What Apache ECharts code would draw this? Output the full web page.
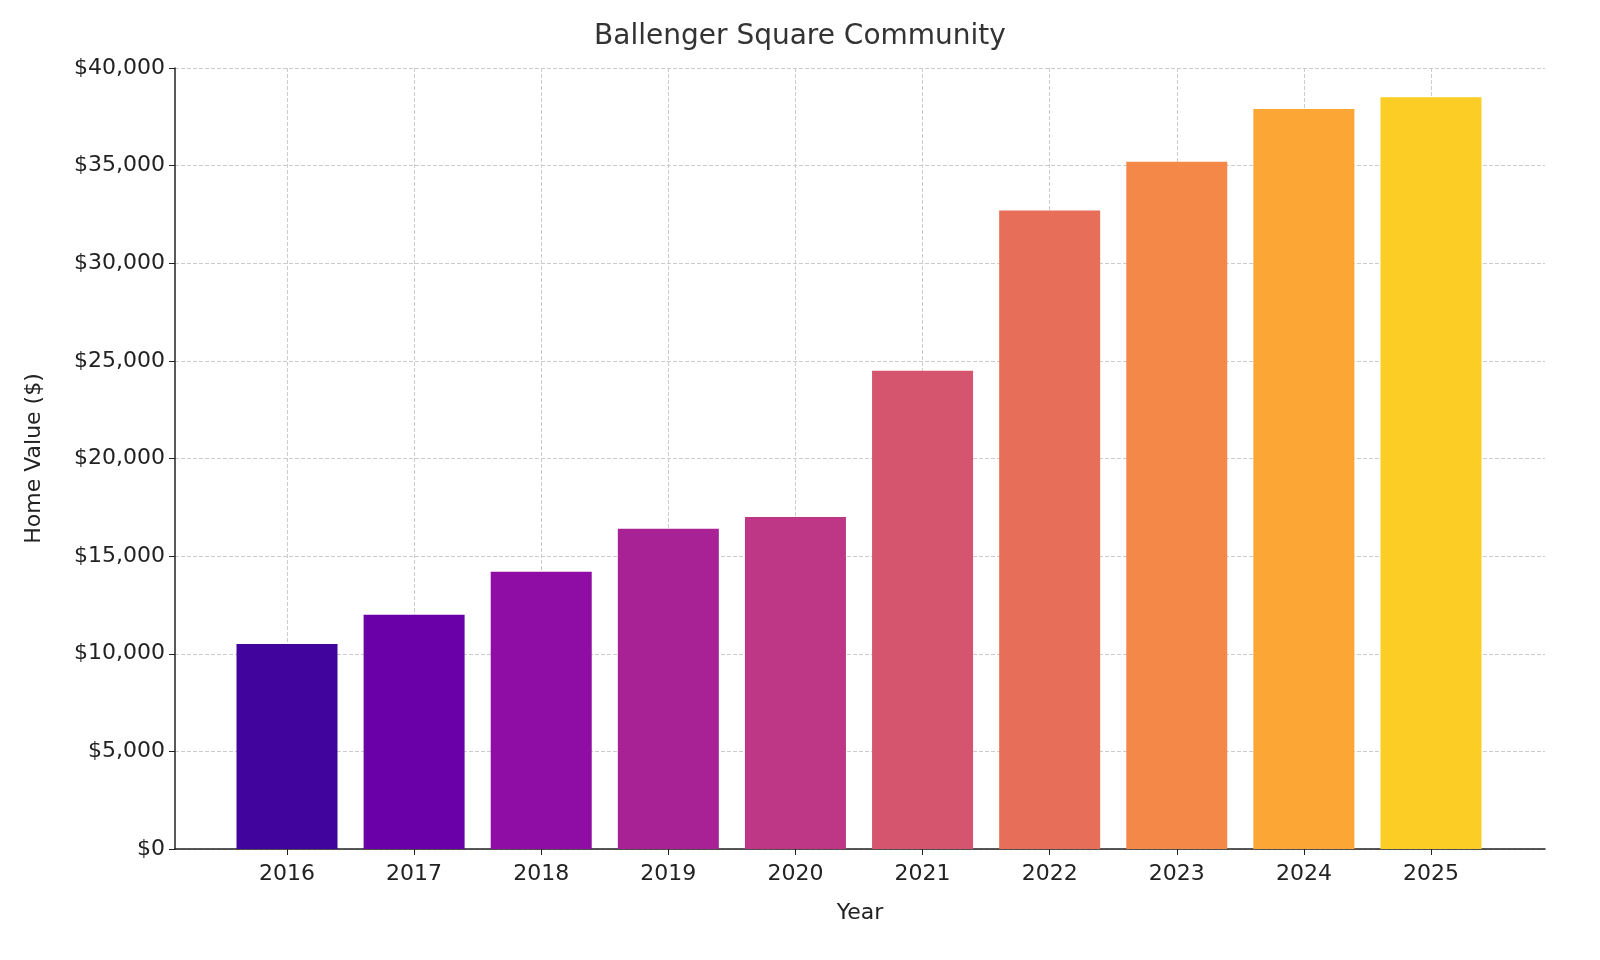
<!DOCTYPE html>
<html>
<head>
<meta charset="utf-8">
<script src="https://cdn.jsdelivr.net/npm/echarts@6/dist/echarts.min.js"></script>
<style>html,body{margin:0;background:#fff}#main{width:1600px;height:960px}</style>
</head>
<body>
<div id="main"></div>
<script>
var years= ['2016','2017','2018','2019','2020','2021','2022','2023','2024','2025'];
var values= [10500, 12000, 14200, 16400, 17000, 24500, 32700, 35200, 37900, 38500];
var colors= ['#41049d','#6a00a8','#8f0da4','#a82296','#bd3786','#d5546e','#e76f5a','#f48849','#fca636','#fccd25'];
var yTicks= 5000;

var font= 'DejaVu Sans';
var chart= echarts.init(document.getElementById('main'));
var data= values.map(function(v, i) {
  return {value: [i, v], itemStyle: {color: colors[i]}};
});
chart.setOption({
  backgroundColor: '#fff',
  animation: false,
  title: {text: 'Ballenger Square Community', left: 'center', top: 18,
    textStyle: {fontFamily: font, fontSize: 28, fontWeight: 'normal', color: '#333'}},
  grid: [
    {left: 175, right: 55, top: 68, bottom: 111},
    {left: 287, right: 169, top: 68, bottom: 111}
  ],
  xAxis: [
    {gridIndex: 0, type: 'value', min: 0, max: 1, axisLabel: {show: false}, axisTick: {show: false},
      splitLine: {show: false}, axisLine: {lineStyle: {color: '#222', width: 1.5}},
      name: 'Year', nameLocation: 'middle', nameGap: 53,
      nameTextStyle: {fontFamily: font, fontSize: 22, color: '#222'}},
    {gridIndex: 1, type: 'value', min: 0, max: 9, interval: 1,
      axisLine: {show: false},
      axisTick: {show: true, length: 6, lineStyle: {color: '#222'}},
      axisLabel: {fontFamily: font, fontSize: 22, color: '#222', margin: 14,
        formatter: function(v) { return years[v]; }},
      splitLine: {show: true, lineStyle: {color: '#ccc', type: 'dashed'}}}
  ],
  yAxis: [
    {gridIndex: 0, type: 'value', min: 0, max: 40000, interval: yTicks,
      axisLine: {show: true, lineStyle: {color: '#222', width: 1.5}},
      axisTick: {show: true, length: 6, lineStyle: {color: '#222'}},
      axisLabel: {fontFamily: font, fontSize: 22, color: '#222', margin: 10,
        formatter: function(v) { return '$'+ v.toLocaleString('en-US'); }},
      splitLine: {show: true, lineStyle: {color: '#ccc', type: 'dashed'}},
      name: 'Home Value ($)', nameLocation: 'middle', nameGap: 130,
      nameTextStyle: {fontFamily: font, fontSize: 22, color: '#222'}},
    {gridIndex: 1, type: 'value', min: 0, max: 40000, show: false}
  ],
  series: [{
    type: 'bar', xAxisIndex: 1, yAxisIndex: 1, barWidth: 101, clip: false,
    data: data, z: 1
  }]
});
</script>
</body>
</html>
